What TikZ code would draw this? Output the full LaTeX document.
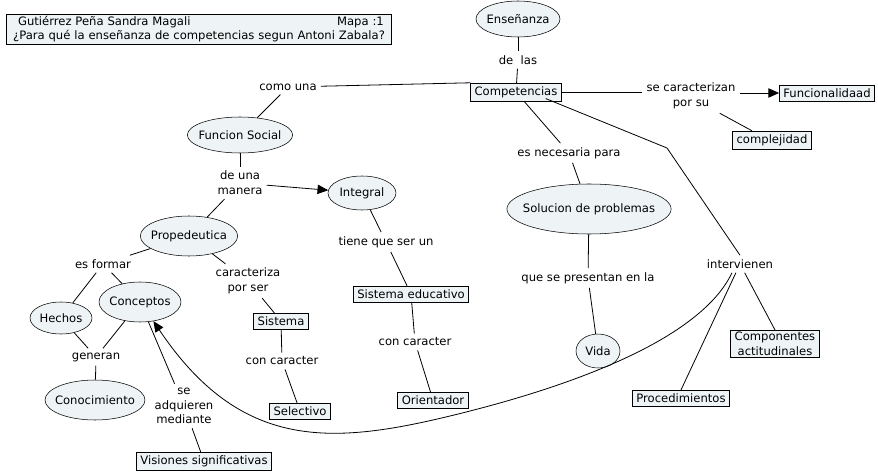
\documentclass[tikz,border=0pt]{standalone}
\usepackage{fontspec}
\setmainfont{DejaVu Sans}
\usepackage{tikz}
\usetikzlibrary{shapes.geometric, arrows.meta, positioning, calc}
\definecolor{conceptfill}{RGB}{238, 244, 246}

\begin{document}
\begin{tikzpicture}[x=0.75pt, y=-0.75pt,
    font=\fontsize{8.7}{11}\selectfont,
    concept/.style={ellipse, draw, fill=conceptfill, inner xsep=-6pt, inner ysep=0pt},
    term/.style={rectangle, draw, fill=conceptfill, inner xsep=3pt, inner ysep=2.5pt},
    link/.style={align=center, inner sep=3pt},
    conn/.style={line width=0.6pt},
    arr/.style={conn, -{Triangle[length=8pt, width=7pt]}}]
  \useasboundingbox (0, 0) rectangle (878, 474);

  % Title
  \node[term, text width=283pt, align=center, inner ysep=1.5pt] (title) at (199, 29)
    {\makebox[\linewidth]{\ \ Gutiérrez Peña Sandra Magali\hfill Mapa :1\ }\\
     ¿Para qué la enseñanza de competencias segun Antoni Zabala?};

  % Top: Enseñanza de las Competencias
  \node[concept, minimum width=63pt, minimum height=27pt] (ensenanza) at (518, 19) {Enseñanza};
  \node[link] (delas) at (518, 60) {de \ las};
  \node[term] (compet) at (516, 92) {Competencias};
  \draw[conn] (ensenanza) -- (delas);
  \draw[conn] (delas) -- (compet);

  % se caracterizan por su
  \node[link] (secarac) at (691, 96) {se caracterizan\\por su};
  \node[term] (funcional) at (827, 93) {Funcionalidaad};
  \node[term] (complej) at (772, 140) {complejidad};
  \draw[conn] (compet.east) -- (secarac.west |- compet.east);
  \draw[arr] (secarac.east |- funcional.west) -- (funcional.west);
  \draw[conn] (secarac.south east) ++(-15pt, 0) -- ($(complej.north) + (-15pt, 0)$);

  % Funcion social
  \node[link] (comouna) at (288, 87) {como una};
  \node[concept, minimum width=79pt, minimum height=27pt] (funsoc) at (240, 135) {Funcion Social};
  \draw[conn] (compet.north west) -- (comouna);
  \draw[conn] (comouna) -- (funsoc);

  \node[link] (demanera) at (240, 183) {de una\\manera};
  \node[concept, minimum width=51pt, minimum height=25.5pt] (integral) at (362, 193) {Integral};
  \draw[conn] (funsoc) -- (demanera);
  \draw[arr] (demanera) -- (integral);

  % Integral branch
  \node[link] (tieneque) at (386, 242) {tiene que ser un};
  \node[term] (siseduc) at (411, 294) {Sistema educativo\ };
  \node[link] (concarA) at (415, 342) {con caracter};
  \node[term] (orient) at (433, 400) {Orientador};
  \draw[conn] (integral) -- (tieneque);
  \draw[conn] (tieneque) -- (siseduc);
  \draw[conn] (siseduc) -- (concarA);
  \draw[conn] (concarA) -- (orient);

  % Propedeutica branch
  \node[concept, minimum width=73pt, minimum height=30pt] (proped) at (189, 236) {Propedeutica};
  \draw[conn] (demanera) -- (proped);
  \node[link] (esformar) at (103, 264) {es formar};
  \node[concept, minimum width=46.5pt, minimum height=24pt] (hechos) at (61, 318) {Hechos};
  \node[concept, minimum width=61.5pt, minimum height=30pt] (concep) at (140, 302) {Conceptos};
  \draw[conn] (proped) -- (esformar);
  \draw[conn] (esformar) -- (hechos);
  \draw[conn] (esformar) -- (concep);

  \node[link] (generan) at (96, 357) {generan};
  \node[concept, minimum width=75pt, minimum height=30pt] (conoc) at (95, 400) {Conocimiento};
  \draw[conn] (hechos) -- (generan);
  \draw[conn] (concep) -- (generan);
  \draw[conn] (generan) -- (conoc);

  \node[link] (seadq) at (184, 406) {se\\adquieren\\mediante};
  \node[term] (visiones) at (204, 461) {Visiones significativas};
  \draw[conn] (concep) -- (seadq);
  \draw[conn] (seadq) -- (visiones);

  \node[link] (caract) at (248, 281) {caracteriza\\por ser};
  \node[term] (sistema) at (281, 321) {Sistema};
  \node[link] (concarB) at (282, 361) {con caracter};
  \node[term] (selectivo) at (300, 411) {Selectivo};
  \draw[conn] (proped) -- (caract);
  \draw[conn] (caract) -- (sistema);
  \draw[conn] (sistema) -- (concarB);
  \draw[conn] (concarB) -- (selectivo);

  % Solucion de problemas
  \node[link] (esnec) at (569, 153) {es necesaria para};
  \node[concept, minimum width=118pt, minimum height=37.5pt] (solucion) at (589, 209) {Solucion de problemas};
  \node[link] (quese) at (588, 278) {que se presentan en la};
  \node[concept, minimum width=33pt, minimum height=25.5pt] (vida) at (598, 351) {Vida};
  \draw[conn] (compet) -- (esnec);
  \draw[conn] (esnec) -- (solucion);
  \draw[conn] (solucion) -- (quese);
  \draw[conn] (quese) -- (vida);

  % intervienen
  \node[link] (interv) at (740, 264) {intervienen};
  \node[term, align=center, inner ysep=1.5pt] (compon) at (775, 344) {Componentes\\ actitudinales};
  \node[term] (proced) at (681, 398) {Procedimientos};
  \coordinate (kink) at (667, 148);
  \draw[conn] (compet.south east) ++(-12pt, 2pt) -- (kink) -- (interv.north);
  \draw[conn] (interv) -- (compon.north);
  \draw[conn] (interv) -- (proced.north);
  \draw[arr] (interv.south) ++(-6pt, 0) .. controls (700, 340) and (570, 387) .. (450, 416)
    .. controls (330, 445) and (240, 450) .. (concep.-55);
\end{tikzpicture}
\end{document}
